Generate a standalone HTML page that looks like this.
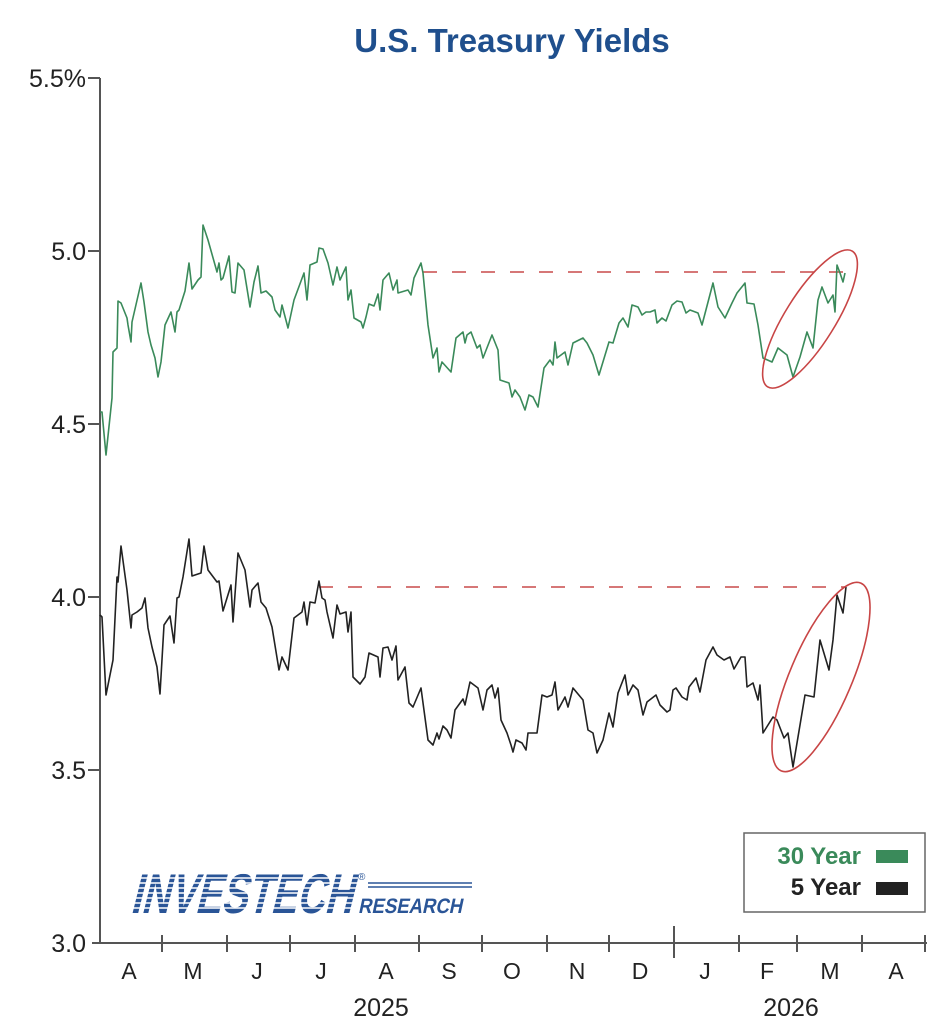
<!DOCTYPE html>
<html><head><meta charset="utf-8"><style>
html,body{margin:0;padding:0;background:#fff;}
svg{display:block;font-family:"Liberation Sans",Arial,sans-serif;}
</style></head><body>
<svg width="948" height="1036" viewBox="0 0 948 1036" xmlns="http://www.w3.org/2000/svg">
<text x="512" y="52" text-anchor="middle" font-size="33" font-weight="bold" fill="#1f4f8d">U.S. Treasury Yields</text>
<!-- logo -->
<g transform="translate(130,913) skewX(-14)">
<text x="0" y="0" font-size="56" font-weight="bold" fill="#2a5597" textLength="222" lengthAdjust="spacingAndGlyphs">INVESTECH</text>
</g>
<g stroke="#fff" stroke-width="1.4">
<line x1="105" y1="868" x2="360" y2="868"/><line x1="105" y1="873" x2="360" y2="873"/>
<line x1="105" y1="878" x2="360" y2="878"/><line x1="105" y1="883" x2="360" y2="883"/>
<line x1="105" y1="888" x2="360" y2="888"/><line x1="105" y1="893" x2="360" y2="893"/>
<line x1="105" y1="898" x2="360" y2="898"/><line x1="105" y1="903" x2="360" y2="903"/>
<line x1="105" y1="908" x2="360" y2="908"/>
</g>
<g transform="translate(358,913) skewX(-12)">
<text x="0" y="0" font-size="21" font-weight="bold" fill="#2a5597" textLength="104" lengthAdjust="spacingAndGlyphs">RESEARCH</text>
</g>
<g stroke="#2a5597" stroke-width="1.5">
<line x1="368" y1="883" x2="472" y2="883"/><line x1="368" y1="887" x2="472" y2="887"/>
</g>
<text x="358" y="880" font-size="10" fill="#2a5597">®</text>
<g stroke="#555" stroke-width="2" fill="none">
<line x1="100" y1="78" x2="100" y2="944"/>
<line x1="92" y1="943" x2="927" y2="943"/>
<line x1="88" y1="78" x2="100" y2="78"/>
<line x1="88" y1="251" x2="100" y2="251"/>
<line x1="88" y1="424" x2="100" y2="424"/>
<line x1="88" y1="597" x2="100" y2="597"/>
<line x1="88" y1="770" x2="100" y2="770"/>
<line x1="162" y1="935" x2="162" y2="952"/>
<line x1="227" y1="935" x2="227" y2="952"/>
<line x1="290" y1="935" x2="290" y2="952"/>
<line x1="355" y1="935" x2="355" y2="952"/>
<line x1="419" y1="935" x2="419" y2="952"/>
<line x1="482" y1="935" x2="482" y2="952"/>
<line x1="547" y1="935" x2="547" y2="952"/>
<line x1="609" y1="935" x2="609" y2="952"/>
<line x1="674" y1="926" x2="674" y2="958"/>
<line x1="739" y1="935" x2="739" y2="952"/>
<line x1="797" y1="935" x2="797" y2="952"/>
<line x1="862" y1="935" x2="862" y2="952"/>
<line x1="925" y1="935" x2="925" y2="952"/>
</g>
<g font-size="25" fill="#222" text-anchor="end">
<text x="86" y="87">5.5%</text>
<text x="86" y="260">5.0</text>
<text x="86" y="433">4.5</text>
<text x="86" y="606">4.0</text>
<text x="86" y="779">3.5</text>
<text x="86" y="952">3.0</text>
</g>
<g font-size="23" fill="#222" text-anchor="middle">
<text x="129" y="979">A</text><text x="193" y="979">M</text><text x="257" y="979">J</text>
<text x="321" y="979">J</text><text x="386" y="979">A</text><text x="449" y="979">S</text>
<text x="512" y="979">O</text><text x="577" y="979">N</text><text x="640" y="979">D</text>
<text x="705" y="979">J</text><text x="767" y="979">F</text><text x="830" y="979">M</text>
<text x="896" y="979">A</text>
<text x="381" y="1016" font-size="25">2025</text>
<text x="791" y="1016" font-size="25">2026</text>
</g>
<g stroke="#c94a4a" stroke-width="1.6" stroke-dasharray="14,15" fill="none">
<line x1="423" y1="272" x2="846" y2="272"/>
<line x1="319" y1="587" x2="846" y2="587"/>
</g>
<polyline fill="none" stroke="#3a8a5a" stroke-width="1.6" stroke-linejoin="round" points="100,412 102,412 106,455 112,398 113,352 117,348 118,301 121,303 127,318 128,325 131,342 132,322 141,283 144,302 148,332 151,345 155,358 158,377 161,362 165,325 171,312 175,332 177,312 179,310 185,291 189,263 192,289 198,280 201,277 203,225 208,240 217,272 219,263 221,280 223,278 229,256 232,292 235,293 238,263 244,270 250,307 254,282 258,266 261,293 266,291 272,297 275,310 280,317 282,305 288,328 294,300 304,273 307,300 310,265 317,262 319,248 323,249 328,263 333,285 337,267 340,280 346,267 348,300 351,290 354,318 361,322 363,328 366,317 369,304 374,306 378,294 380,310 383,280 389,273 393,290 397,280 398,293 408,290 411,295 414,278 421,263 423,273 428,325 433,358 437,348 439,372 442,362 451,372 456,338 463,332 465,343 467,335 471,332 477,348 480,345 483,358 492,335 498,350 500,380 509,383 512,397 515,390 520,397 525,410 529,395 533,397 538,407 544,368 550,360 553,365 555,342 557,358 565,352 568,365 573,343 583,338 587,343 593,355 599,375 609,342 613,343 619,323 623,318 628,327 632,305 638,307 642,315 646,312 650,312 655,310 657,323 662,318 666,321 672,305 677,301 682,302 686,313 690,310 698,313 702,325 713,283 718,307 725,318 732,303 737,293 745,283 747,303 754,304 758,325 763,358 772,362 778,348 787,355 793,377 800,357 807,332 813,348 818,300 822,287 828,303 833,295 835,312 837,265 840,273 843,282 845,273"/>
<polyline fill="none" stroke="#222" stroke-width="1.6" stroke-linejoin="round" points="100,615 102,617 106,695 113,660 117,577 118,582 121,546 127,590 131,628 132,615 137,612 142,608 145,598 148,628 152,647 157,667 160,694 164,625 170,616 174,643 177,598 179,597 183,577 189,539 192,576 201,573 204,546 208,570 217,582 219,581 223,611 231,585 233,622 238,553 245,570 250,607 252,590 258,583 261,602 266,608 272,627 279,670 282,657 288,670 294,618 302,612 304,602 307,625 310,602 315,603 319,581 322,598 325,600 327,612 333,638 337,605 340,614 346,612 348,632 351,612 353,677 360,684 365,677 369,653 378,657 380,677 383,648 388,647 392,660 396,646 398,680 405,667 409,703 413,707 421,688 428,740 433,745 437,733 439,739 443,726 447,730 451,738 455,710 463,699 465,705 470,682 478,688 483,710 487,690 492,685 495,698 498,688 501,720 507,733 511,745 513,752 516,740 522,743 526,750 528,733 537,733 542,695 547,697 552,695 555,682 558,710 565,697 568,707 573,688 583,700 588,730 593,733 597,753 603,740 609,713 613,727 618,693 625,675 628,695 633,685 638,690 643,715 647,702 656,695 660,705 667,712 670,710 673,690 676,688 682,697 687,700 689,687 696,678 700,692 706,660 713,647 717,655 724,660 730,657 734,669 741,657 745,657 747,687 753,683 758,700 760,685 763,733 773,717 777,720 784,738 788,733 793,767 800,725 805,695 814,697 820,640 829,670 833,640 837,595 843,613 846,587"/>
<g stroke="#c84545" stroke-width="1.6" fill="none">
<ellipse cx="810" cy="319" rx="80" ry="25" transform="rotate(-58 810 319)"/>
<ellipse cx="821" cy="677" rx="102" ry="31" transform="rotate(-67 821 677)"/>
</g>
<rect x="744" y="833" width="181" height="79" fill="#fff" stroke="#666" stroke-width="1.5"/>
<text x="861" y="864" text-anchor="end" font-size="24" font-weight="bold" fill="#3a8a5a">30 Year</text>
<rect x="876" y="850" width="32" height="13" fill="#3a8a5a"/>
<text x="861" y="895" text-anchor="end" font-size="24" font-weight="bold" fill="#222">5 Year</text>
<rect x="876" y="882" width="32" height="13" fill="#222"/>
</svg>
</body></html>
